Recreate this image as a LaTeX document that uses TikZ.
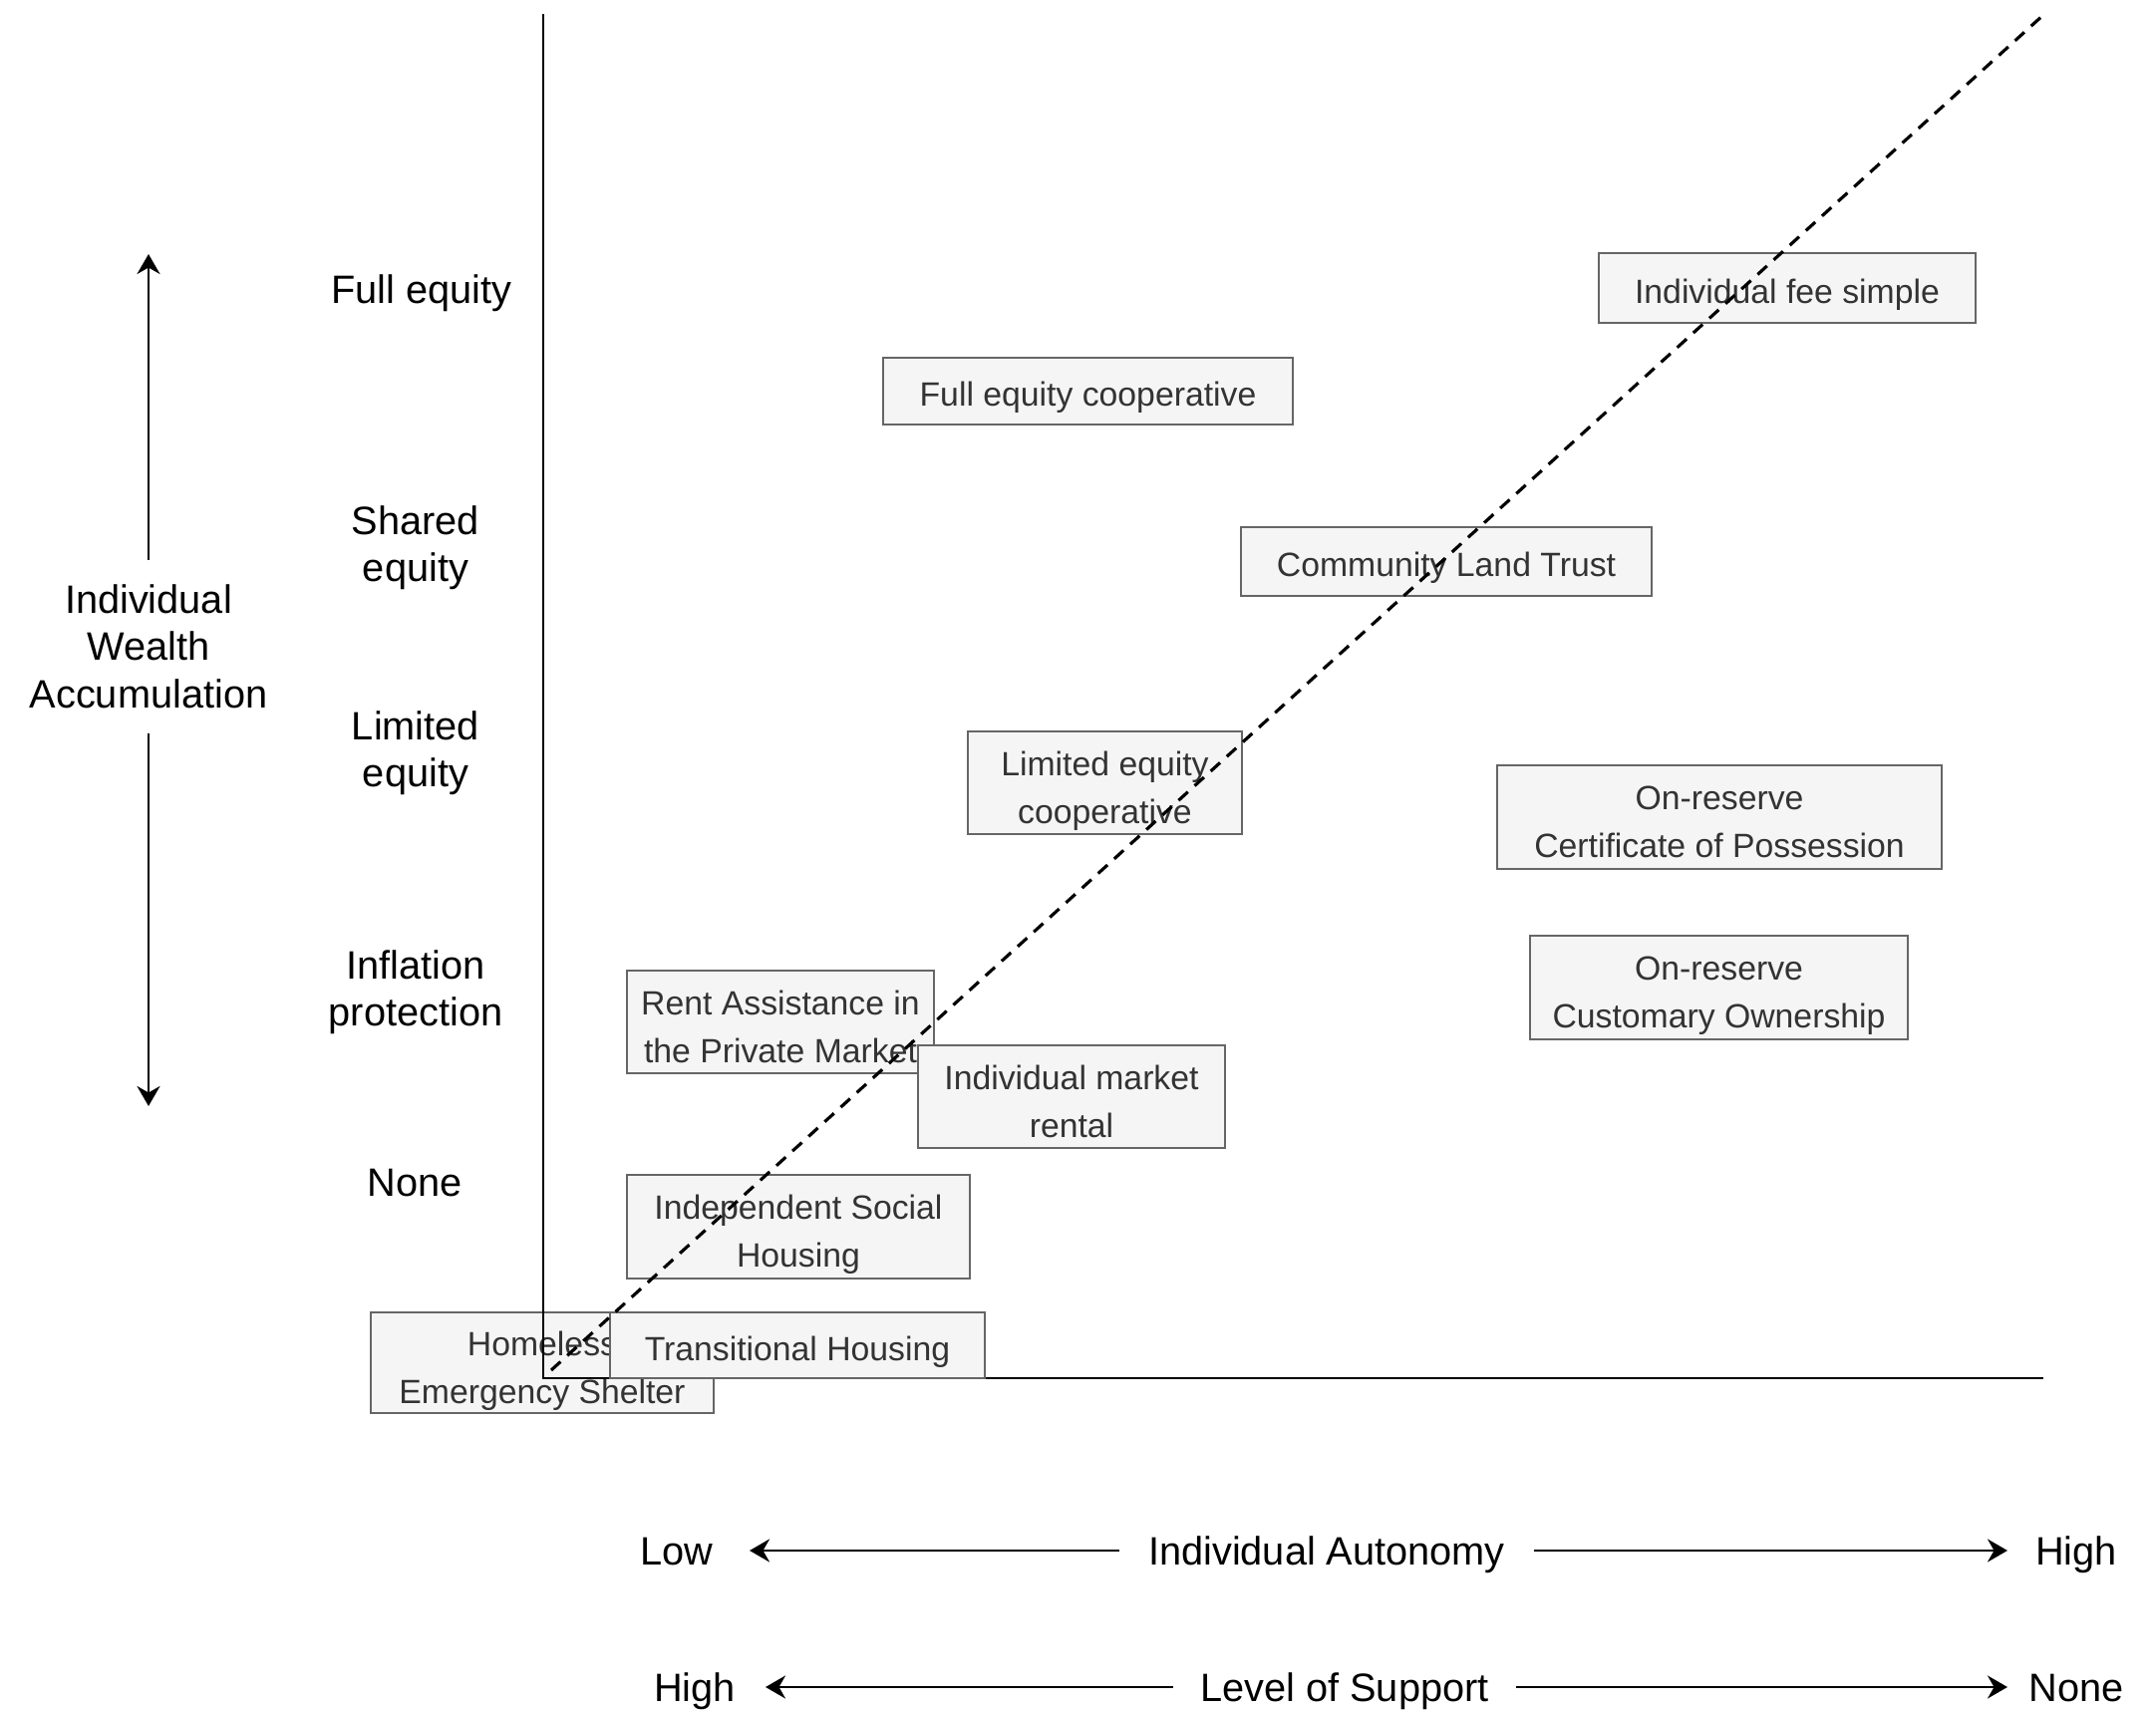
\documentclass[tikz,border=0pt]{standalone}
\usepackage{fontspec}
\setmainfont{Liberation Sans}
\usetikzlibrary{arrows.meta}

\definecolor{boxfill}{HTML}{F5F5F5}
\definecolor{boxline}{HTML}{666666}
\definecolor{boxtext}{HTML}{333333}

\tikzset{
  box/.style={draw=boxline, fill=boxfill, text=boxtext, line width=0.6pt,
    inner sep=0pt, align=center, font=\fontsize{9.6}{13.6}\selectfont,
    text height=11pt, text depth=2.4pt},
  tallbox/.style={box, text height=25.6pt},
  lvl/.style={inner sep=0pt, align=center, font=\fontsize{11.3}{13.4}\selectfont,
    text height=10.2pt, text depth=2.1pt},
  talllvl/.style={lvl, text height=23.6pt},
  axis/.style={line width=0.65pt},
  diag/.style={line width=0.9pt, dash pattern=on 3.6pt off 2.6pt},
  scale arrow/.style={line width=0.75pt, ->},
}

\begin{document}
\begin{tikzpicture}[x=0.01cm, y=-0.01cm, >={Stealth[length=0.2cm, width=0.23cm]}]
  \useasboundingbox (0,0) rectangle (2163,1716);

  % ---- Frame points ----
  \coordinate (ytop) at (545,14);
  \coordinate (orig) at (545,1383);
  \coordinate (xend) at (2050,1383);
  \coordinate (dlow) at (553,1375);
  \coordinate (dtop) at (2050,15);

  % ---- Shelter box sits under the axes ----
  \node[tallbox, minimum width=3.44cm, minimum height=1.01cm] (shelter) at (544,1367.5)
    {Homeless\\Emergency Shelter};

  % ---- Axes ----
  \draw[axis] (ytop) -- (orig) -- (xend);

  % ---- Housing models ----
  \node[box, minimum width=3.76cm, minimum height=0.66cm] (trans) at (800,1350)
    {Transitional Housing};
  \node[tallbox, minimum width=3.44cm, minimum height=1.04cm] (social) at (801,1231)
    {Independent Social\\Housing};
  \node[tallbox, minimum width=3.08cm, minimum height=1.03cm] (rent) at (783,1025.5)
    {Rent Assistance in\\the Private Market};
  \node[tallbox, minimum width=3.08cm, minimum height=1.03cm] (market) at (1075,1100.5)
    {Individual market\\rental};
  \node[tallbox, minimum width=2.75cm, minimum height=1.03cm] (limcoop) at (1108.5,785.5)
    {Limited equity\\cooperative};
  \node[tallbox, minimum width=4.46cm, minimum height=1.04cm] (possession) at (1725,820)
    {On-reserve\\Certificate of Possession};
  \node[tallbox, minimum width=3.79cm, minimum height=1.04cm] (customary) at (1724.5,991)
    {On-reserve\\Customary Ownership};
  \node[box, minimum width=4.12cm, minimum height=0.69cm] (clt) at (1451,563.5)
    {Community Land Trust};
  \node[box, minimum width=4.11cm, minimum height=0.67cm] (fullcoop) at (1091.5,392.5)
    {Full equity cooperative};
  \node[box, minimum width=3.78cm, minimum height=0.70cm] (feesimple) at (1793,289)
    {Individual fee simple};

  % ---- Diagonal reference line ----
  \draw[diag] (dlow) -- (dtop);

  % ---- Equity levels ----
  \node[lvl] (full) at (423,290) {Full equity};
  \foreach \n/\y/\t in {shared/546/{Shared\\equity},
                        limited/752/{Limited\\equity},
                        inflation/992/{Inflation\\protection}}{
    \node[talllvl] (\n) at (417,\y) {\t};
  }
  \node[lvl] (none) at (416,1186) {None};

  % ---- Vertical scale ----
  \coordinate (wup) at (149,255);
  \coordinate (wdown) at (149,1110);
  \node[lvl, text height=36.8pt, minimum height=1.72cm] (wealth) at (149,649)
    {Individual\\Wealth\\Accumulation};
  \draw[scale arrow] (wealth.north) -- (wup);
  \draw[scale arrow] (wealth.south) -- (wdown);

  % ---- Horizontal scales ----
  \coordinate (autolo) at (752,1556);
  \coordinate (autohi) at (2014,1556);
  \node[lvl, minimum width=4.14cm] (autonomy) at (1331,1556) {Individual Autonomy};
  \node[lvl] (low) at (679,1556) {Low};
  \node[lvl] (high) at (2083,1556) {High};
  \draw[scale arrow] (autonomy.west) -- (autolo);
  \draw[scale arrow] (autonomy.east) -- (autohi);

  \coordinate (suphi) at (768,1693);
  \coordinate (supnone) at (2014,1693);
  \node[lvl, minimum width=3.43cm] (support) at (1349,1693) {Level of Support};
  \node[lvl] (supporthigh) at (697,1693) {High};
  \node[lvl] (supportnone) at (2083,1693) {None};
  \draw[scale arrow] (support.west) -- (suphi);
  \draw[scale arrow] (support.east) -- (supnone);

\end{tikzpicture}
\end{document}
